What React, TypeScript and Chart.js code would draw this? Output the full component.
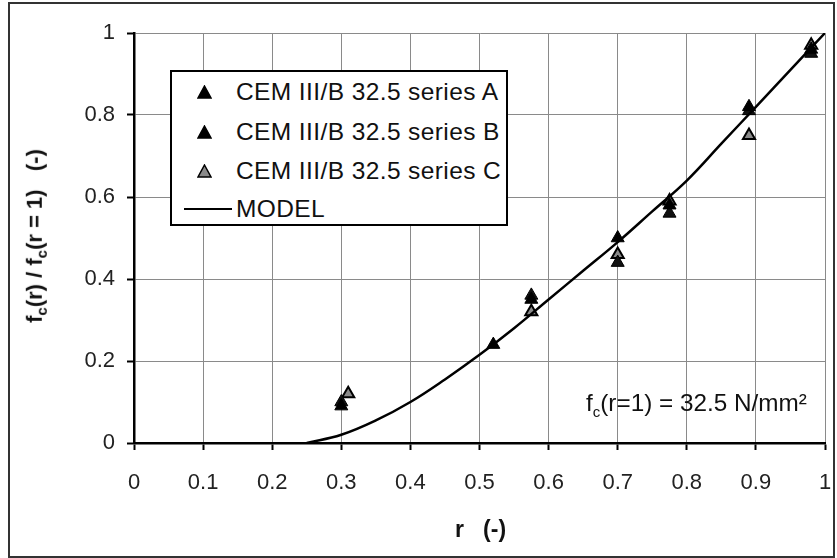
import React, { useEffect, useRef } from "react";
import { Chart, registerables } from "chart.js";

Chart.register(...registerables);

const seriesAx = [0.30, 0.52, 0.575, 0.70, 0.775, 0.89, 0.98];
const seriesAy = [0.09, 0.24, 0.35, 0.50, 0.58, 0.82, 0.96];
const seriesBx = [0.30, 0.575, 0.70, 0.775, 0.89, 0.98];
const seriesBy = [0.10, 0.36, 0.44, 0.56, 0.81, 0.95];
const seriesCx = [0.31, 0.575, 0.70, 0.775, 0.89, 0.98];
const seriesCy = [0.12, 0.32, 0.46, 0.59, 0.75, 0.97];
const modelX = [0.25, 0.30, 0.35, 0.40, 0.45, 0.50, 0.55, 0.60, 0.65, 0.70, 0.75, 0.80, 0.85, 0.90, 0.95, 1.0];
const modelY = [0, 0.02, 0.055, 0.10, 0.155, 0.215, 0.28, 0.35, 0.42, 0.49, 0.565, 0.64, 0.73, 0.82, 0.91, 1.0];
const xTicks = [0, 0.1, 0.2, 0.3, 0.4, 0.5, 0.6, 0.7, 0.8, 0.9, 1];
const yTicks = [0, 0.2, 0.4, 0.6, 0.8, 1];
const legendLabels = ["CEM III/B 32.5 series A", "CEM III/B 32.5 series B", "CEM III/B 32.5 series C", "MODEL"];

const FONT = "'Liberation Sans', Arial, sans-serif";

const pts = (xs: number[], ys: number[]) => xs.map((x, i) => ({ x, y: ys[i] }));

const fmt = (v: number) => (v === 0 ? "0" : v === 1 ? "1" : v.toFixed(1));

function Tri({ fill }: { fill: string }) {
  return (
    <svg width="15" height="14" style={{ display: "block" }}>
      <polygon points="7.5,1 14,13 1,13" fill={fill} stroke="#000" strokeWidth="1.5" />
    </svg>
  );
}

export default function App() {
  const ref = useRef<HTMLCanvasElement | null>(null);
  useEffect(() => {
    document.body.style.margin = "0";
    const ctx = ref.current!;
    const chart = new Chart(ctx, {
      type: "scatter",
      data: {
        datasets: [
          {
            type: "line",
            label: legendLabels[3],
            data: pts(modelX, modelY),
            borderColor: "#000",
            borderWidth: 2.5,
            pointRadius: 0,
            tension: 0.4,
            fill: false,
          } as any,
          {
            label: legendLabels[0],
            data: pts(seriesAx, seriesAy),
            pointStyle: "triangle",
            pointRadius: 7.5,
            backgroundColor: "#000",
            borderColor: "#000",
            borderWidth: 1,
          },
          {
            label: legendLabels[1],
            data: pts(seriesBx, seriesBy),
            pointStyle: "triangle",
            pointRadius: 7.5,
            backgroundColor: "#111",
            borderColor: "#000",
            borderWidth: 1,
          },
          {
            label: legendLabels[2],
            data: pts(seriesCx, seriesCy),
            pointStyle: "triangle",
            pointRadius: 7,
            backgroundColor: "#8a8a8a",
            borderColor: "#000",
            borderWidth: 2,
          },
        ],
      },
      options: {
        animation: false,
        responsive: false,
        devicePixelRatio: 1,
        layout: { padding: { left: 0, top: 33, right: 12, bottom: 0 } },
        plugins: { legend: { display: false }, tooltip: { enabled: false } },
        scales: {
          x: {
            type: "linear",
            min: 0,
            max: 1,
            afterBuildTicks: (s: any) => {
              s.ticks = xTicks.map((v) => ({ value: v }));
            },
            afterFit: (s: any) => {
              s.height = 115;
              s.paddingRight = 0;
              s.paddingLeft = 0;
            },
            ticks: {
              callback: (v: any) => fmt(Number(v)),
              color: "#222",
              font: { family: FONT, size: 22 },
              padding: 20,
              maxRotation: 0,
              autoSkip: false,
            },
            grid: { color: "#8a8a8a", lineWidth: 1, tickLength: 7, tickColor: "#000", tickWidth: 2 },
            border: { color: "#000", width: 2.5 },
          },
          y: {
            type: "linear",
            min: 0,
            max: 1,
            afterBuildTicks: (s: any) => {
              s.ticks = yTicks.map((v) => ({ value: v }));
            },
            afterFit: (s: any) => {
              s.width = 134;
              s.paddingTop = 0;
              s.paddingBottom = 0;
            },
            ticks: {
              callback: (v: any) => fmt(Number(v)),
              color: "#222",
              font: { family: FONT, size: 22 },
              padding: 12,
              autoSkip: false,
            },
            grid: { color: "#8a8a8a", lineWidth: 1, tickLength: 7, tickColor: "#000", tickWidth: 2 },
            border: { color: "#000", width: 2.5 },
          },
        },
      },
    });
    return () => chart.destroy();
  }, []);

  const legendRow = (top: number, content: React.ReactNode, label: string) => (
    <div style={{ position: "absolute", left: 0, top, display: "flex", alignItems: "center", height: 28 }}>
      <div style={{ width: 64, display: "flex", justifyContent: "center" }}>{content}</div>
      <span>{label}</span>
    </div>
  );

  return (
    <div style={{ position: "relative", width: 837, height: 558, background: "#fff", fontFamily: FONT, overflow: "hidden" }}>
      <canvas ref={ref} width={837} height={558} style={{ width: 837, height: 558, display: "block" }} />
      <div style={{ position: "absolute", left: 8, top: 2, width: 823, height: 552, border: "2px solid #333", pointerEvents: "none" }} />
      <div
        style={{
          position: "absolute",
          left: 170,
          top: 70,
          width: 334,
          height: 152,
          border: "2px solid #000",
          background: "#fff",
          fontSize: 24.5,
          letterSpacing: 0.4,
          color: "#111",
        }}
      >
        {legendRow(6, <Tri fill="#000" />, legendLabels[0])}
        {legendRow(46, <Tri fill="#000" />, legendLabels[1])}
        {legendRow(85, <Tri fill="#8a8a8a" />, legendLabels[2])}
        {legendRow(123, <div style={{ width: 48, height: 2, background: "#000", marginLeft: 8 }} />, legendLabels[3])}
      </div>
      <div style={{ position: "absolute", left: 586, top: 389, fontSize: 24.3, color: "#111", whiteSpace: "nowrap" }}>
        f<sub style={{ fontSize: 15 }}>c</sub>(r=1) = 32.5 N/mm²
      </div>
      <div style={{ position: "absolute", left: 455, top: 516, fontSize: 23, fontWeight: "bold", color: "#111", whiteSpace: "pre" }}>
        r   (-)
      </div>
      <div
        style={{
          position: "absolute",
          left: 36,
          top: 236,
          transform: "translate(-50%, -50%) rotate(-90deg)",
          fontSize: 22,
          fontWeight: "bold",
          color: "#111",
          whiteSpace: "pre",
        }}
      >
        f<sub style={{ fontSize: 15 }}>c</sub>(r) / f<sub style={{ fontSize: 15 }}>c</sub>(r = 1)   (-)
      </div>
    </div>
  );
}
